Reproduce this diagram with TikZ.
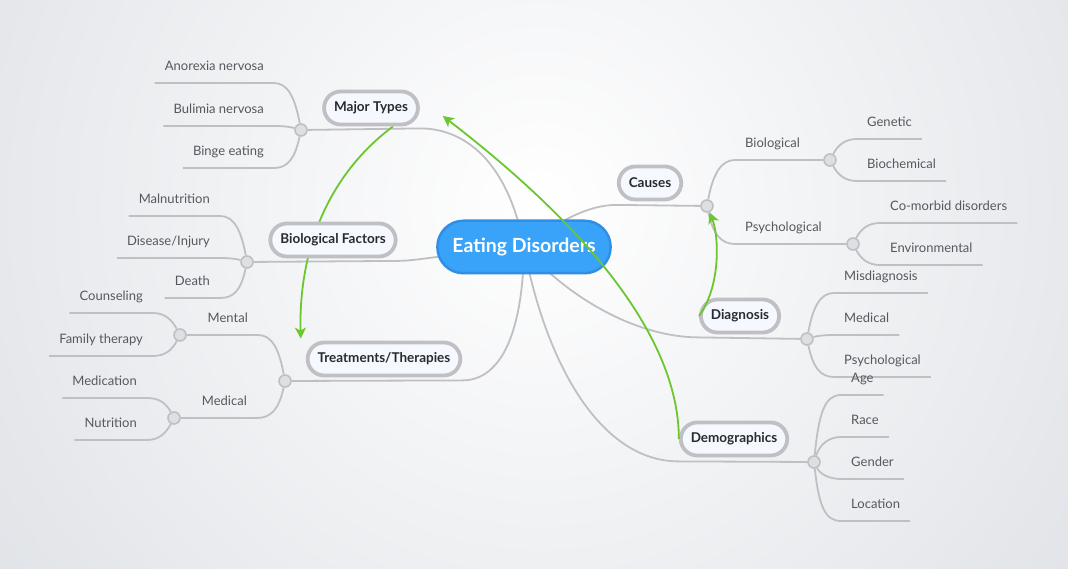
\documentclass[tikz,border=0pt]{standalone}
\usepackage{fontspec}
\setmainfont{Lato}
\usetikzlibrary{arrows.meta}
\pgfdeclarelayer{back}
\pgfdeclarelayer{lines}
\pgfsetlayers{back,lines,main}
\definecolor{bgc}{RGB}{220,223,228}
\definecolor{edfill}{RGB}{56,163,248}
\definecolor{edline}{RGB}{48,143,228}
\definecolor{twigc}{RGB}{192,192,196}
\definecolor{topfill}{RGB}{245,248,254}
\definecolor{relc}{RGB}{108,198,46}
\definecolor{leaftc}{RGB}{85,88,94}
\definecolor{toptc}{RGB}{40,43,48}
\definecolor{jfill}{RGB}{222,223,226}

\begin{document}
\begin{tikzpicture}[x=1pt,y=-1pt]
\tikzset{cent/.style={draw=edline,fill=edfill,line width=2.5pt,rounded corners=26pt,
  minimum height=52.5pt,inner xsep=15pt,font=\fontsize{19.5}{23}\selectfont\bfseries,text=white},
topic/.style={draw=twigc,fill=topfill,line width=3.8pt,rounded corners=16.5pt,
  minimum height=33pt,inner xsep=10pt,font=\fontsize{13.5}{16}\selectfont\bfseries,text=toptc},
leaf/.style={font=\fontsize{13}{15}\selectfont,text=leaftc,inner xsep=10pt,inner ysep=9.5pt,
  text height=9pt,text depth=3pt},
jn/.style={circle,draw=twigc,fill=jfill,line width=1.6pt,minimum size=12pt,inner sep=0pt},
twig/.style={draw=twigc,line width=1.8pt},
relarrow/.style={draw=relc,line width=1.8pt,-{Stealth[length=11pt,width=11pt,inset=3pt]}},
}

\useasboundingbox (0,0) rectangle (1068,569);
\begin{pgfonlayer}{back}
\begin{scope}
\clip (0,0) rectangle (1068,569);
\fill[bgc] (0,0) rectangle (1068,569);
\shade[inner color=white,outer color=bgc] (540,205) circle (760);
\end{scope}
\end{pgfonlayer}

% main topics
\node[cent] (ed) at (524,247) {Eating Disorders};
\node[topic] (mt) at (371,108) {Major Types};
\node[topic] (bf) at (333,240) {Biological Factors};
\node[topic] (tt) at (384,359) {Treatments/Therapies};
\node[topic] (ca) at (650,183) {Causes};
\node[topic] (dg) at (740,316) {Diagnosis};
\node[topic] (dm) at (734,439) {Demographics};

% junctions
\node[jn] (jmt) at (301,130) {};
\node[jn] (jbf) at (247,262) {};
\node[jn] (jtt) at (285,381) {};
\node[jn] (jme) at (180,335) {};
\node[jn] (jmd) at (174,418) {};
\node[jn] (jca) at (707,206) {};
\node[jn] (jcb) at (830,160) {};
\node[jn] (jcp) at (853,244) {};
\node[jn] (jdg) at (807,339) {};
\node[jn] (jdm) at (814,462) {};

% subtopics
\node[leaf,anchor=south east] (an) at (274,83) {Anorexia nervosa};
\node[leaf,anchor=south east] (bu) at (274,126) {Bulimia nervosa};
\node[leaf,anchor=south east] (bi) at (274,168) {Binge eating};
\node[leaf,anchor=south east] (ma) at (220,216) {Malnutrition};
\node[leaf,anchor=south east] (di) at (220,258) {Disease/Injury};
\node[leaf,anchor=south east] (de) at (220,298) {Death};
\node[leaf,anchor=south east] (tme) at (258,335) {Mental};
\node[leaf,anchor=south east] (tmd) at (257,418) {Medical};
\node[leaf,anchor=south east] (co) at (153,313) {Counseling};
\node[leaf,anchor=south east] (fa) at (153,356) {Family therapy};
\node[leaf,anchor=south east] (mc) at (147,398) {Medication};
\node[leaf,anchor=south east] (nu) at (147,440) {Nutrition};
\node[leaf,anchor=south west] (cb) at (735,160) {Biological};
\node[leaf,anchor=south west] (cp) at (735,244) {Psychological};
\node[leaf,anchor=south west] (gn) at (857,139) {Genetic};
\node[leaf,anchor=south west] (bc) at (857,181) {Biochemical};
\node[leaf,anchor=south west] (cm) at (880,223) {Co-morbid disorders};
\node[leaf,anchor=south west] (en) at (880,265) {Environmental};
\node[leaf,anchor=south west] (mi) at (834,293) {Misdiagnosis};
\node[leaf,anchor=south west] (dmd) at (834,335) {Medical};
\node[leaf,anchor=south west] (dps) at (834,377) {Psychological};
\node[leaf,anchor=south west] (ag) at (841,395) {Age};
\node[leaf,anchor=south west] (ra) at (841,437) {Race};
\node[leaf,anchor=south west] (gd) at (841,479) {Gender};
\node[leaf,anchor=south west] (lo) at (841,521) {Location};

\begin{pgfonlayer}{lines}
% branches
\draw[twig] (ed.center) .. controls +(-14,-77) and +(51,0) .. ([yshift=-2pt]mt.south east) -- (jmt);
\draw[twig] (ed.center) .. controls +(-54,3) and +(25,0) .. ([yshift=-2.5pt]bf.south east) -- (jbf);
\draw[twig] (ed.center) .. controls +(-1,83) and +(40,0) .. ([yshift=-3pt]tt.south east) -- (jtt);
\draw[twig] (ed.center) .. controls +(36,-27) and +(-28,0) .. ([yshift=-3.5pt]ca.south west) -- (jca);
\draw[twig] (ed.center) .. controls +(46,53) and +(-60,0) .. ([yshift=-3pt]dg.south west) -- (jdg);
\draw[twig] (ed.center) .. controls +(21,113) and +(-80,0) .. ([yshift=-4pt]dm.south west) -- (jdm);

% left side
\draw[twig] (jmt) .. controls +(-6,-32) and +(14,0) .. (an.south east) -- (an.south west);
\draw[twig] (jmt) .. controls +(-10,-3) and +(10,0) .. (bu.south east) -- (bu.south west);
\draw[twig] (jmt) .. controls +(-6,28) and +(14,0) .. (bi.south east) -- (bi.south west);
\draw[twig] (jbf) .. controls +(-6,-32) and +(14,0) .. (ma.south east) -- (ma.south west);
\draw[twig] (jbf) .. controls +(-10,-3) and +(10,0) .. (di.south east) -- (di.south west);
\draw[twig] (jbf) .. controls +(-6,28) and +(14,0) .. (de.south east) -- (de.south west);
\draw[twig] (jtt) .. controls +(-6,-32) and +(14,0) .. (tme.south east) -- (jme);
\draw[twig] (jtt) .. controls +(-6,28) and +(14,0) .. (tmd.south east) -- (jmd);
\draw[twig] (jme) .. controls +(-8,-15) and +(12,0) .. (co.south east) -- (co.south west);
\draw[twig] (jme) .. controls +(-8,15) and +(12,0) .. (fa.south east) -- (fa.south west);
\draw[twig] (jmd) .. controls +(-8,-15) and +(12,0) .. (mc.south east) -- (mc.south west);
\draw[twig] (jmd) .. controls +(-8,15) and +(12,0) .. (nu.south east) -- (nu.south west);

% right side
\draw[twig] (jca) .. controls +(6,-32) and +(-14,0) .. (cb.south west) -- (jcb);
\draw[twig] (jca) .. controls +(6,28) and +(-14,0) .. (cp.south west) -- (jcp);
\draw[twig] (jcb) .. controls +(8,-15) and +(-12,0) .. (gn.south west) -- (gn.south east);
\draw[twig] (jcb) .. controls +(8,15) and +(-12,0) .. (bc.south west) -- (bc.south east);
\draw[twig] (jcp) .. controls +(8,-15) and +(-12,0) .. (cm.south west) -- (cm.south east);
\draw[twig] (jcp) .. controls +(8,15) and +(-12,0) .. (en.south west) -- (en.south east);
\draw[twig] (jdg) .. controls +(6,-32) and +(-14,0) .. (mi.south west) -- (mi.south east);
\draw[twig] (jdg) .. controls +(10,-3) and +(-10,0) .. (dmd.south west) -- (dmd.south east);
\draw[twig] (jdg) .. controls +(6,28) and +(-14,0) .. (dps.south west) -- (dps.south east);
\draw[twig] (jdm) .. controls +(5,-50) and +(-16,0) .. (ag.south west) -- (ag.south east);
\draw[twig] (jdm) .. controls +(6,-18) and +(-12,0) .. (ra.south west) -- (ra.south east);
\draw[twig] (jdm) .. controls +(6,12) and +(-12,0) .. (gd.south west) -- (gd.south east);
\draw[twig] (jdm) .. controls +(5,44) and +(-16,0) .. (lo.south west) -- (lo.south east);

% relationship under the topics
\draw[relarrow] ([xshift=22pt]mt.south) .. controls +(-72,54) and +(-2,-78) .. ([xshift=-5pt,yshift=2pt]tt.north west);
\end{pgfonlayer}

% relationships
\draw[relarrow] (dm.west) .. controls +(0,-109) and +(130,100) .. ([xshift=23pt,yshift=-8pt]mt.east);
\draw[relarrow] (dg.west) .. controls +(22,-30) and +(12,30) .. (jca);

\end{tikzpicture}
\end{document}
